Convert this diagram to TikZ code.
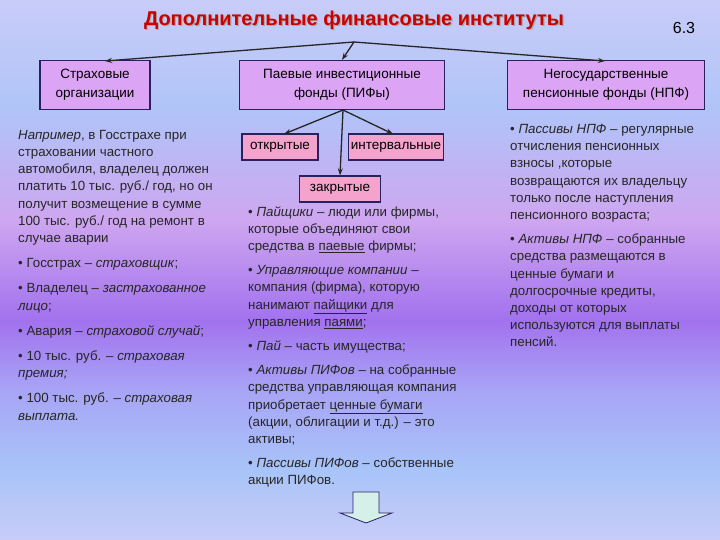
\documentclass[tikz,border=0pt]{standalone}
\usepackage{fontspec}
\setmainfont{Liberation Sans}
\usetikzlibrary{arrows.meta}
\definecolor{bga}{HTML}{C8CCF8}
\definecolor{bgb}{HTML}{A8C4F8}
\definecolor{bgc}{HTML}{A8A4F6}
\definecolor{bgd}{HTML}{A272EE}
\definecolor{bge}{HTML}{CEA6F0}
\definecolor{bgf}{HTML}{B0C4F8}
\definecolor{boxa}{HTML}{DCA4F4}
\definecolor{boxb}{HTML}{F4A4CC}
\definecolor{edge}{HTML}{2A2060}
\definecolor{titler}{HTML}{CC0000}
\definecolor{arrowf}{HTML}{D4F0E8}
\tikzset{
  mainbox/.style={draw=edge, line width=1.2pt, fill=boxa, align=center, inner sep=0pt, font=\fontsize{13.5}{19}\selectfont},
  subbox/.style={draw=edge, line width=1.2pt, fill=boxb, align=center, inner sep=0pt, font=\fontsize{13.5}{15}\selectfont},
  txt/.style={anchor=north west, align=left, inner sep=0pt, font=\fontsize{13.3}{17.2}\selectfont, text=black!85},
  conn/.style={line width=1.3pt, -{Stealth[length=7pt,width=5pt]}, draw=black!85}
}
\begin{document}
\begin{tikzpicture}[x=1pt,y=-1pt]
\useasboundingbox (0,0) rectangle (720,540);
\begin{scope}[yscale=-1]
\shade[top color=bga, bottom color=bgf] (0,0) rectangle (720,-110);
\shade[top color=bgf, bottom color=bge] (0,-110) rectangle (720,-220);
\shade[top color=bge, bottom color=bgd] (0,-220) rectangle (720,-320);
\shade[top color=bgd, bottom color=bgc] (0,-320) rectangle (720,-390);
\shade[top color=bgc, bottom color=bgb] (0,-390) rectangle (720,-470);
\shade[top color=bgb, bottom color=bga] (0,-470) rectangle (720,-540);
\end{scope}
% title
\node[font=\bfseries\fontsize{20}{24}\selectfont, text=black!35] at (355.2,21.2) {Дополнительные финансовые институты};
\node (title) [font=\bfseries\fontsize{20}{24}\selectfont, text=titler] at (354,20) {Дополнительные финансовые институты};
\node (num) [font=\fontsize{16}{18}\selectfont] at (684,28) {6.3};
\coordinate (top) at (354,42);
% main boxes
\node (b1) [mainbox, minimum width=110, minimum height=49] at (95,85) {Страховые\\организации};
\node (b2) [mainbox, minimum width=205, minimum height=49] at (342,85) {Паевые инвестиционные\\фонды (ПИФы)};
\node (b3) [mainbox, minimum width=197, minimum height=49] at (606,85) {Негосударственные\\пенсионные фонды (НПФ)};
\draw[conn] (top) -- (105,61);
\draw[conn] (top) -- (b2.north);
\draw[conn] (top) -- (605,61);
% sub boxes
\node (s1) [subbox, minimum width=76, minimum height=26] at (280,147) {открытые};
\node (s2) [subbox, minimum width=95, minimum height=26] at (396,147) {интервальные};
\node (s3) [subbox, minimum width=81, minimum height=26] at (340,189) {закрытые};
\coordinate (mid) at (343,110);
\draw[conn] (mid) -- (284,134);
\draw[conn] (mid) -- (s3.north);
\draw[conn] (mid) -- (393,134);
% left text
\node (lt) [txt] at (18,130) {\textit{Например}, в Госстрахе при\\страховании частного\\автомобиля, владелец должен\\платить 10 тыс. руб./ год, но он\\получит возмещение в сумме\\100 тыс. руб./ год на ремонт в\\случае аварии\\[8pt]
• Госстрах – \textit{страховщик};\\[8pt]
• Владелец – \textit{застрахованное}\\\textit{лицо};\\[8pt]
• Авария – \textit{страховой случай};\\[8pt]
• 10 тыс. руб. – \textit{страховая}\\\textit{премия;}\\[8pt]
• 100 тыс. руб. – \textit{страховая}\\\textit{выплата.}};
% middle text
\node (mt) [txt] at (248,206) {• \textit{Пайщики} – люди или фирмы,\\которые объединяют свои\\средства в \underline{паевые} фирмы;\\[7pt]
• \textit{Управляющие компании} –\\компания (фирма), которую\\нанимают \underline{пайщики} для\\управления \underline{паями};\\[7pt]
• \textit{Пай} – часть имущества;\\[7pt]
• \textit{Активы ПИФов} – на собранные\\средства управляющая компания\\приобретает \underline{ценные бумаги}\\(акции, облигации и т.д.) – это\\активы;\\[7pt]
• \textit{Пассивы ПИФов} – собственные\\акции ПИФов.};
% right text
\node (rt) [txt] at (510,124) {• \textit{Пассивы НПФ} – регулярные\\отчисления пенсионных\\взносы ,которые\\возвращаются их владельцу\\только после наступления\\пенсионного возраста;\\[7pt]
• \textit{Активы НПФ} – собранные\\средства размещаются в\\ценные бумаги и\\долгосрочные кредиты,\\доходы от которых\\используются для выплаты\\пенсий.};
% down arrow
\draw[draw=edge, line width=0.8pt, fill=arrowf] (353,492) -- (379,492) -- (379,513) -- (392,513) -- (366,523) -- (340,513) -- (353,513) -- cycle;
\end{tikzpicture}
\end{document}
